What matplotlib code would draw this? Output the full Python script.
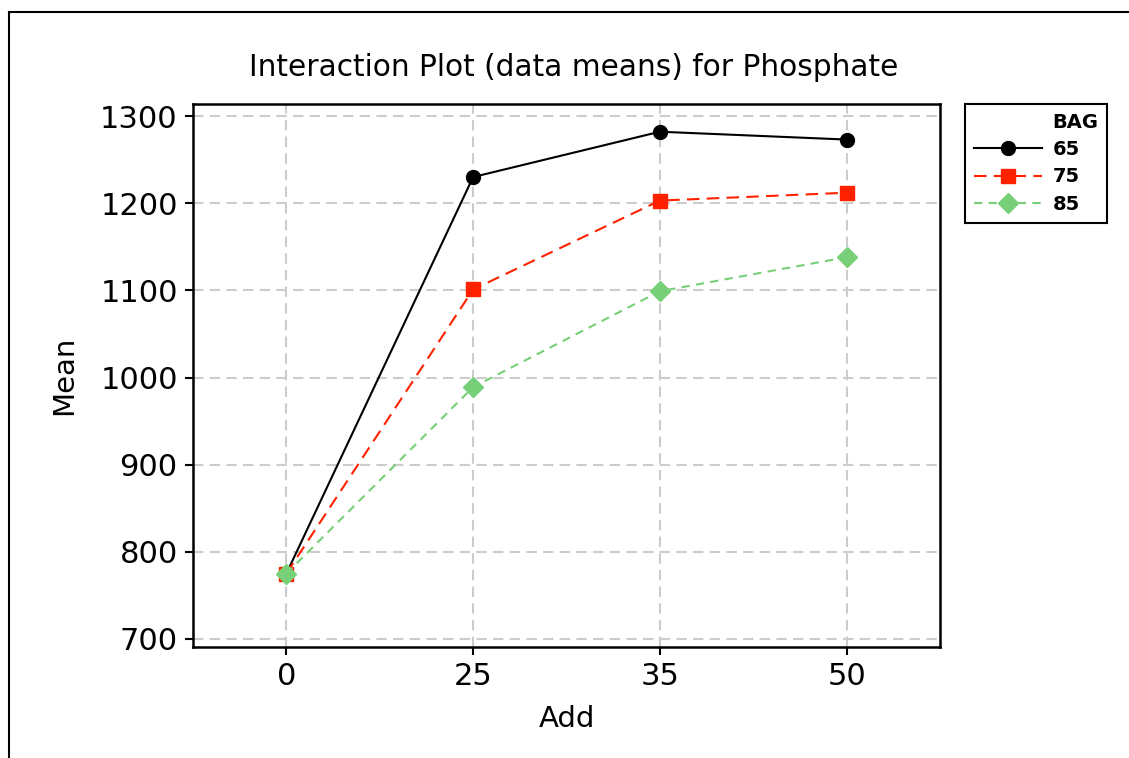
import numpy as np
import matplotlib
matplotlib.use("Agg")
import matplotlib.pyplot as plt
from matplotlib.lines import Line2D

# data
add_levels = ["0", "25", "35", "50"]
bag_levels = ["65", "75", "85"]
mean_65 = [775, 1230, 1282, 1273]
mean_75 = [775, 1101, 1203, 1212]
mean_85 = [775, 989, 1099, 1138]
y_ticks = [700, 800, 900, 1000, 1100, 1200, 1300]

plt.rcParams['font.family'] = ['DejaVu Sans']

fig = plt.figure(figsize=(11.29, 7.58), dpi=100)
ax = fig.add_axes([193 / 1129, 1 - 647 / 758, (940 - 193) / 1129, (647 - 104) / 758])

x = np.arange(len(add_levels))
ax.plot(x, mean_65, color="black", lw=1.5, marker="o", ms=10, label=bag_levels[0], zorder=3)
ax.plot(x, mean_75, color="#ff2200", lw=1.5, ls=(0, (6, 3.5)), marker="s", ms=10,
        label=bag_levels[1], zorder=3)
ax.plot(x, mean_85, color="#77cf77", lw=1.5, ls=(0, (4, 3)), marker="D", ms=10,
        label=bag_levels[2], zorder=3)

ax.set_xlim(-0.5, 3.5)
ax.set_ylim(690.8, 1313.8)
ax.set_xticks(x)
ax.set_xticklabels(add_levels)
ax.set_yticks(y_ticks)
ax.tick_params(labelsize=22, length=6, width=1.5, direction="out", pad=5)
ax.grid(True, color="#cccccc", ls=(0, (5, 3)), lw=1.5)
ax.set_axisbelow(True)
for s in ax.spines.values():
    s.set_linewidth(1.8)

ax.set_xlabel("Add", fontsize=21, labelpad=10)
ax.set_ylabel("Mean", fontsize=21, labelpad=16)
ax.set_title("Interaction Plot (data means) for Phosphate", fontsize=21.3, pad=20, x=0.509)

# legend: "BAG" as a blank first entry so it lines up with the labels
handles, labels = ax.get_legend_handles_labels()
blank = Line2D([], [], color="none", label="BAG")
leg = fig.legend([blank] + handles, ["BAG"] + labels, loc="upper left",
                 bbox_to_anchor=(965 / 1129, 1 - 104 / 758), borderaxespad=0,
                 prop={"weight": "bold", "size": 14}, frameon=True, fancybox=False,
                 edgecolor="black", framealpha=1, handlelength=3.5, handletextpad=0.55,
                 borderpad=0.45, labelspacing=0.43)
leg.get_frame().set_linewidth(1.5)

# outer border of the graph window
fig.add_artist(Line2D([9 / 1129, 9 / 1129], [0, 1 - 12 / 758], color="black", lw=1.5))
fig.add_artist(Line2D([9 / 1129, 1], [1 - 12 / 758, 1 - 12 / 758], color="black", lw=1.5))

fig.savefig("out.png", dpi=100)
